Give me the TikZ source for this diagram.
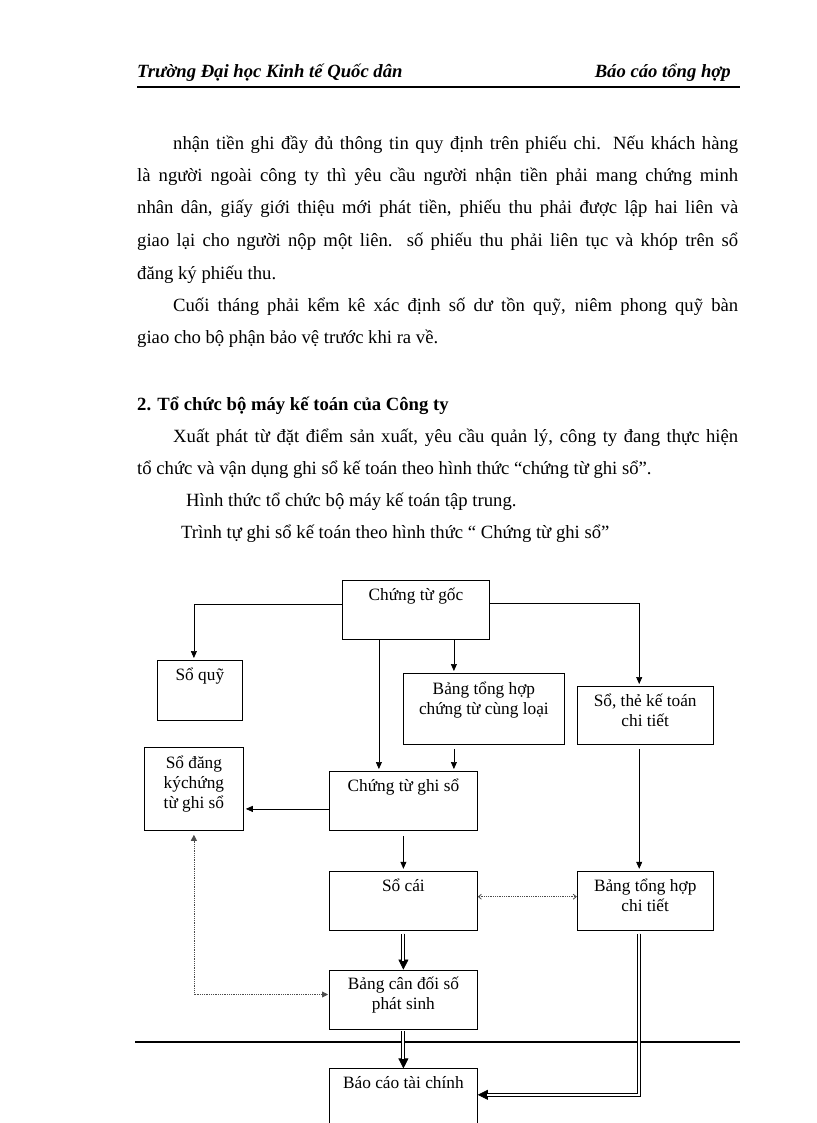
\documentclass[tikz,border=0pt]{standalone}
\usepackage{fontspec}
\setmainfont{Liberation Serif}
\usetikzlibrary{positioning, arrows.meta}

\begin{document}
\begin{tikzpicture}[
    x=1pt, y=-1pt,
    every node/.style={font=\fontsize{17.3}{20}\selectfont},
    txt/.style={anchor=base west, inner sep=0pt,
                font=\fontsize{18.67}{32}\selectfont},
    box/.style={draw, line width=.8pt, align=center, inner sep=0pt,
                text height=20pt, anchor=north west},
    arr/.style={-{Triangle[length=7pt,width=6pt]}, line width=.7pt,
                shorten >=2pt},
    dotarr/.style={densely dotted, line width=.8pt, black!70},
    dbl/.style={draw=black, double=white, double distance=2pt, line width=1pt},
    bigtip/.style={-{Triangle[length=10pt,width=10pt]}, line width=.7pt}
  ]
    \useasboundingbox (0,0) rectangle (816,1123);

    % page header
    \node[txt, font=\fontsize{18.67}{20}\selectfont\bfseries\itshape]
      (school) at (137,78) {Trường Đại học Kinh tế Quốc dân};
    \node[txt, anchor=base east, font=\fontsize{18.67}{20}\selectfont\bfseries\itshape]
      (report) at (731,78) {Báo cáo tổng hợp};
    \draw[line width=2pt] (137,87) -- (740,87);

    % body text
    \node[txt] (p1) at (173,150) {\makebox[565pt][s]{nhận tiền ghi đầy đủ thông tin quy định trên phiếu chi. Nếu khách hàng}};
    \node[txt] (p2) at (137,182) {\makebox[601pt][s]{là người ngoài công ty thì yêu cầu người nhận tiền phải mang chứng minh}};
    \node[txt] (p3) at (137,214) {\makebox[601pt][s]{nhân dân, giấy giới thiệu mới phát tiền, phiếu thu phải được lập hai liên và}};
    \node[txt] (p4) at (137,247) {\makebox[601pt][s]{giao lại cho người nộp một liên. số phiếu thu phải liên tục và khóp trên sổ}};
    \node[txt] (p5) at (137,279) {đăng ký phiếu thu.};
    \node[txt] (q1) at (173,311) {\makebox[565pt][s]{Cuối tháng phải kểm kê xác định số dư tồn quỹ, niêm phong quỹ bàn}};
    \node[txt] (q2) at (137,343) {giao cho bộ phận bảo vệ trước khi ra về.};
    \node[txt, font=\fontsize{18.67}{32}\selectfont\bfseries]
      (head) at (137,410) {2. Tổ chức bộ máy kế toán của Công ty};
    \node[txt] (r1) at (173,442) {\makebox[565pt][s]{Xuất phát từ đặt điểm sản xuất, yêu cầu quản lý, công ty đang thực hiện}};
    \node[txt] (r2) at (137,474) {tổ chức và vận dụng ghi sổ kế toán theo hình thức “chứng từ ghi sổ”.};
    \node[txt] (r3) at (186,506) {Hình thức tổ chức bộ máy kế toán tập trung.};
    \node[txt] (r4) at (181,538) {Trình tự ghi sổ kế toán theo hình thức “ Chứng từ ghi sổ”};

    \draw[line width=2pt] (135,1042) -- (740,1042);

    % boxes
    \node[box, minimum width=147pt, minimum height=59pt, text depth=39pt]
      (goc) at (342,580) {Chứng từ gốc};
    \node[box, minimum width=85pt, minimum height=60pt, text depth=40pt]
      (soquy) at (157,660) {Sổ quỹ};
    \node[box, minimum width=161pt, minimum height=71pt,
          text height=41pt, text depth=30pt]
      (bthloai) at (403,673) {Bảng tổng hợp\\chứng từ cùng loại};
    \node[box, minimum width=99pt, minimum height=83pt,
          text height=61pt, text depth=22pt]
      (sodk) at (144,747) {Sổ đăng\\kýchứng\\từ ghi sổ};
    \node[box, minimum width=148pt, minimum height=59pt, text depth=39pt]
      (ghiso) at (329,771) {Chứng từ ghi sổ};
    \node[box, minimum width=148pt, minimum height=59pt, text depth=39pt,
          below=40pt of ghiso] (socai) {Sổ cái};
    \node[box, minimum width=148pt, minimum height=59pt,
          text height=39pt, text depth=20pt,
          below=39pt of socai] (bcd) {Bảng cân đối số\\phát sinh};
    \node[box, minimum width=148pt, minimum height=59pt, text depth=39pt,
          below=39pt of bcd] (bctc) {Báo cáo tài chính};
    \node[box, minimum width=136pt, minimum height=59pt,
          text height=40pt, text depth=19pt,
          right=99pt of socai] (bthct) {Bảng tổng hợp\\chi tiết};
    \node[box, minimum width=136pt, minimum height=58pt,
          text height=40pt, text depth=18pt,
          above=126pt of bthct] (sothe) {Sổ, thẻ kế toán\\chi tiết};

    % single arrows
    \draw[arr] ([yshift=6pt]goc.west) -| ([xshift=-6pt]soquy.north);
    \draw[arr] ([yshift=7pt]goc.east) -| ([xshift=-6pt]sothe.north);
    \draw[arr] ([xshift=-37pt]goc.south) -- ([xshift=-37pt]goc.south |- ghiso.north);
    \draw[arr] ([xshift=38pt]goc.south) -- ([xshift=38pt]goc.south |- bthloai.north);
    \draw[arr, shorten <=4pt] ([xshift=-30pt]bthloai.south)
      -- ([xshift=-30pt]bthloai.south |- ghiso.north);
    \draw[arr] ([yshift=-8pt]ghiso.west) -- ([yshift=-8pt]ghiso.west -| sodk.east);
    \draw[arr, shorten <=5pt] (ghiso) -- (socai);
    \draw[arr, shorten <=4pt] ([xshift=-6pt]sothe.south) -- ([xshift=-6pt]bthct.north);

    % dotted links
    \draw[dotarr, {Straight Barb[length=3pt,width=5pt]}-{Straight Barb[length=3pt,width=5pt]}]
      ([yshift=4pt]socai.east) -- ([yshift=4pt]bthct.west);
    \draw[dotarr, {Triangle[length=6pt,width=6pt]}-{Triangle[length=6pt,width=6pt]},
          shorten <=4pt, shorten >=1pt]
      (sodk.south) |- ([yshift=5pt]bcd.west);

    % double arrows
    \draw[bigtip, shorten <=3pt] (socai.south) -- (bcd.north);
    \draw[dbl, shorten <=3pt, shorten >=9pt] (socai.south) -- (bcd.north);
    \draw[bigtip, shorten <=2pt] (bcd.south) -- (bctc.north);
    \draw[dbl, shorten <=2pt, shorten >=9pt] (bcd.south) -- (bctc.north);
    \draw[bigtip, shorten <=3pt] ([xshift=-6pt]bthct.south) |- ([yshift=3.5pt]bctc.east);
    \draw[dbl, shorten <=3pt, shorten >=9pt] ([xshift=-6pt]bthct.south) |- ([yshift=3.5pt]bctc.east);
\end{tikzpicture}
\end{document}
